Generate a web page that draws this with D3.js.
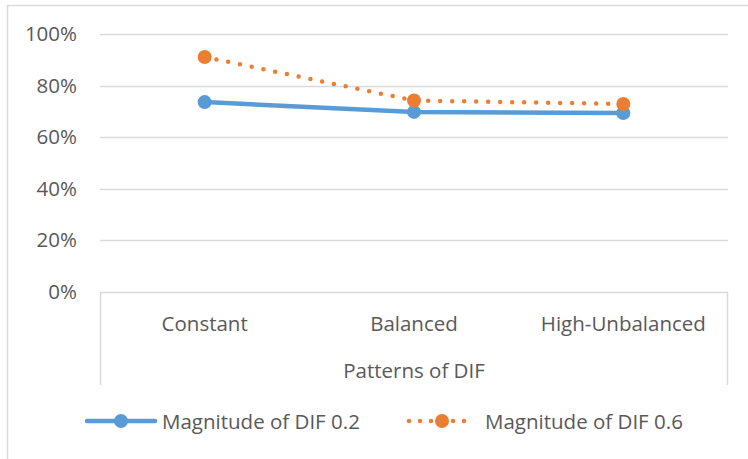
<!DOCTYPE html>
<html>
<head>
<meta charset="utf-8">
<script src="https://cdn.jsdelivr.net/npm/d3@7"></script>
<style>
  html, body { margin: 0; padding: 0; background: #fff; }
  svg { display: block; font-family: "Open Sans", Lato, sans-serif; }
</style>
</head>
<body>
<svg id="chart" width="748" height="459"></svg>
<script>
// ── Data ──────────────────────────────────────────
const categories = ['Constant', 'Balanced', 'High-Unbalanced'];
const dif02 = [0.736, 0.698, 0.694];
const dif06 = [0.911, 0.742, 0.729];
const seriesNames = ['Magnitude of DIF 0.2', 'Magnitude of DIF 0.6'];
const yTicks = [0, 0.2, 0.4, 0.6, 0.8, 1.0];
const xTitle = 'Patterns of DIF';

const blue = '#5b9bd5';
const orange = '#ed7d31';
const grid = '#d9d9d9';
const textCol = '#595959';
const fs = 20.5;

const svg = d3.select('#chart');

// outer chart frame
svg.append('rect')
  .attr('x', 7.5).attr('y', 5.5)
  .attr('width', 748).attr('height', 470)
  .attr('fill', 'none').attr('stroke', grid).attr('stroke-width', 1.5);

const plot = { left: 100, right: 728, top: 34, bottom: 292 };

const x = d3.scaleBand().domain(categories).range([plot.left, plot.right]);
const y = d3.scaleLinear().domain([0, 1]).range([plot.bottom, plot.top]);

// gridlines
svg.append('g').selectAll('line')
  .data(yTicks.filter(t => t > 0))
  .join('line')
  .attr('x1', plot.left).attr('x2', plot.right)
  .attr('y1', d => Math.round(y(d)) + 0.5).attr('y2', d => Math.round(y(d)) + 0.5)
  .attr('stroke', grid).attr('stroke-width', 1.5);

// y axis labels
const yAxis = svg.append('g')
  .attr('transform', `translate(${plot.left},0)`)
  .call(d3.axisLeft(y).tickValues(yTicks).tickFormat(d3.format('.0%')).tickSize(0).tickPadding(23));
yAxis.select('.domain').remove();
yAxis.selectAll('text').attr('font-size', fs).attr('fill', textCol)
  .attr('font-family', '"Open Sans", Lato, sans-serif');

// category box (axis line + side lines)
const boxBottom = 385;
svg.append('path')
  .attr('d', `M${plot.left + 0.5},${boxBottom}V${plot.bottom + 0.5}H${plot.right - 0.5}V${boxBottom}`)
  .attr('fill', 'none').attr('stroke', grid).attr('stroke-width', 1.5);

svg.append('g').selectAll('text')
  .data(categories)
  .join('text')
  .attr('x', d => x(d) + x.bandwidth() / 2)
  .attr('y', 331)
  .attr('text-anchor', 'middle')
  .attr('font-size', fs).attr('fill', textCol)
  .text(d => d);

svg.append('text')
  .attr('x', (plot.left + plot.right) / 2)
  .attr('y', 378)
  .attr('text-anchor', 'middle')
  .attr('font-size', fs).attr('fill', textCol)
  .text(xTitle);

// series
const cx = (d, i) => x(categories[i]) + x.bandwidth() / 2;
const line = d3.line().x((d, i) => cx(d, i)).y(d => y(d));

svg.append('path').datum(dif02)
  .attr('d', line).attr('fill', 'none')
  .attr('stroke', blue).attr('stroke-width', 4.5).attr('stroke-linejoin', 'round');
svg.append('g').selectAll('circle').data(dif02).join('circle')
  .attr('cx', cx).attr('cy', d => y(d)).attr('r', 7).attr('fill', blue);

svg.append('path').datum(dif06)
  .attr('d', line).attr('fill', 'none')
  .attr('stroke', orange).attr('stroke-width', 4.5)
  .attr('stroke-linecap', 'round').attr('stroke-dasharray', '0 12');
svg.append('g').selectAll('circle').data(dif06).join('circle')
  .attr('cx', cx).attr('cy', d => y(d)).attr('r', 7).attr('fill', orange);

// legend
const ly = 421;
const lg1 = svg.append('g');
lg1.append('line').attr('x1', 87).attr('x2', 155).attr('y1', ly).attr('y2', ly)
  .attr('stroke', blue).attr('stroke-width', 4.5).attr('stroke-linecap', 'round');
lg1.append('circle').attr('cx', 121).attr('cy', ly).attr('r', 7).attr('fill', blue);
lg1.append('text').attr('x', 162).attr('y', ly + 7.5)
  .attr('font-size', fs).attr('fill', textCol).text(seriesNames[0]);

const lg2 = svg.append('g');
lg2.append('line').attr('x1', 409).attr('x2', 475).attr('y1', ly).attr('y2', ly)
  .attr('stroke', orange).attr('stroke-width', 4.5)
  .attr('stroke-linecap', 'round').attr('stroke-dasharray', '0 11');
lg2.append('circle').attr('cx', 442).attr('cy', ly).attr('r', 7).attr('fill', orange);
lg2.append('text').attr('x', 485).attr('y', ly + 7.5)
  .attr('font-size', fs).attr('fill', textCol).text(seriesNames[1]);
</script>
</body>
</html>
